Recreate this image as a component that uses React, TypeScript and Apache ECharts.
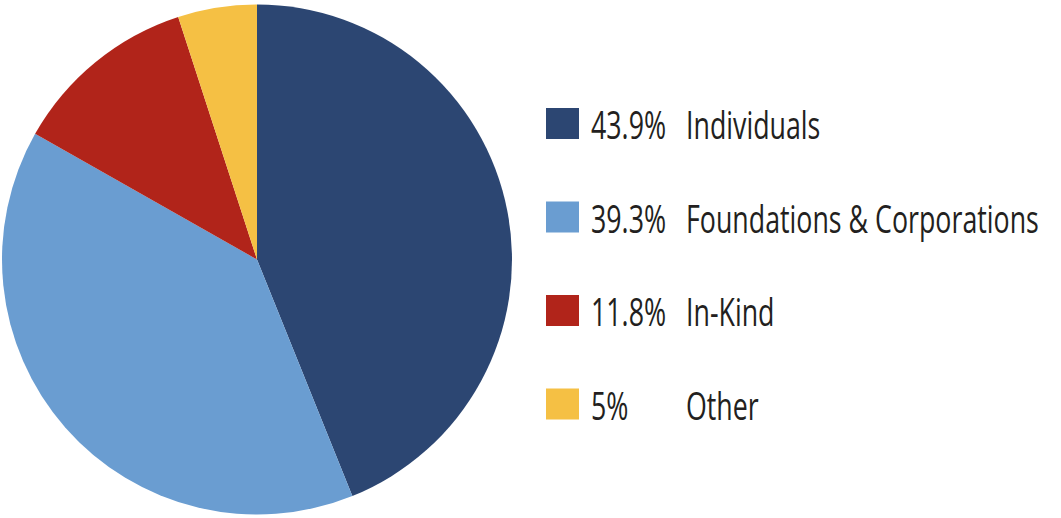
import React, { useEffect, useRef } from "react";
import * as echarts from "echarts";

const categories = ["Individuals", "Foundations & Corporations", "In-Kind", "Other"];
const values = [43.9, 39.3, 11.8, 5];
const percentLabels = ["43.9%", "39.3%", "11.8%", "5%"];
const colors = ["#2c4672", "#6a9dd1", "#b1241a", "#f5c044"];

const FONT = "Open Sans";
const FS = 38;
const SX = 0.705;

export default function App() {
  const ref = useRef<HTMLDivElement>(null);
  useEffect(() => {
    if (!ref.current) return;
    const chart = echarts.init(ref.current, null, { renderer: "svg" });
    const legendEls: any[] = [];
    categories.forEach((c, i) => {
      const top = 108 + i * 93.5;
      legendEls.push({
        type: "rect",
        shape: { x: 546, y: top, width: 33, height: 31 },
        style: { fill: colors[i] },
        silent: true,
      });
      legendEls.push({
        type: "text",
        x: 591,
        y: top + 17,
        scaleX: SX,
        style: {
          text: percentLabels[i],
          fontFamily: FONT,
          fontSize: FS,
          fontWeight: 400,
          fill: "#231f20",
          align: "left",
          verticalAlign: "middle",
        },
        silent: true,
      });
      legendEls.push({
        type: "text",
        x: 686,
        y: top + 17,
        scaleX: SX,
        style: {
          text: c,
          fontFamily: FONT,
          fontSize: FS,
          fontWeight: 400,
          fill: "#231f20",
          align: "left",
          verticalAlign: "middle",
        },
        silent: true,
      });
    });
    chart.setOption({
      animation: false,
      graphic: legendEls,
      series: [
        {
          type: "pie",
          center: [257, 259.5],
          radius: [0, 255],
          startAngle: 90,
          clockwise: true,
          label: { show: false },
          labelLine: { show: false },
          emphasis: { disabled: true },
          itemStyle: { borderWidth: 0 },
          data: categories.map((c, i) => ({
            name: c,
            value: values[i],
            itemStyle: { color: colors[i] },
          })),
        },
      ],
    });
    return () => chart.dispose();
  }, []);
  return (
    <div
      ref={ref}
      style={{ position: "absolute", left: 0, top: 0, width: 1061, height: 518 }}
    />
  );
}
